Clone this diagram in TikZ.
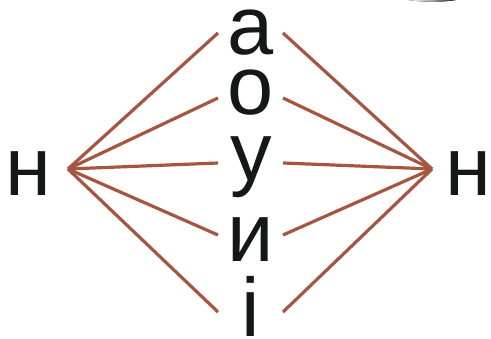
\documentclass[tikz,border=0pt]{standalone}
\usepackage{fontspec}
\setmainfont{Liberation Sans}
\definecolor{linec}{RGB}{166,86,64}
\definecolor{textc}{RGB}{22,24,24}
\begin{document}
\begin{tikzpicture}[x=1pt,y=-1pt,
  letter/.style={anchor=base,inner sep=0pt,text=textc,font=\fontsize{83}{83}\selectfont},
  conn/.style={draw=linec,line width=3.2pt}]
\useasboundingbox (0,0) rectangle (491,339);
% letters
\node[letter] (a) at (251,55) {а};
\node[letter] (o) at (251,115) {о};
\node[letter] (u) at (251,181) {у};
\node[letter] (i) at (251,262) {и};
\node[letter] (ii) at (251,337) {і};
\node[letter] (nl) at (28,196) {н};
\node[letter] (nr) at (468,196) {н};
% hubs
\coordinate (hl) at (68,169);
\coordinate (hr) at (432,169);
% endpoints
\coordinate (la) at (218,33);  \coordinate (ra) at (283,33);
\coordinate (lo) at (218,98);  \coordinate (ro) at (283,98);
\coordinate (lu) at (218,163); \coordinate (ru) at (283,163);
\coordinate (li) at (218,235); \coordinate (ri) at (283,235);
\coordinate (lii) at (218,312); \coordinate (rii) at (283,312);
\foreach \p in {a,o,u,i,ii}{
  \draw[conn] (hl) -- (l\p);
  \draw[conn] (r\p) -- (hr);
}
% cropped glyph fragment at top edge
\fill[left color=white, right color=textc, middle color=textc!40] (408,0) .. controls (425,2.2) and (440,2.6) .. (456,0) -- cycle;
\end{tikzpicture}
\end{document}
